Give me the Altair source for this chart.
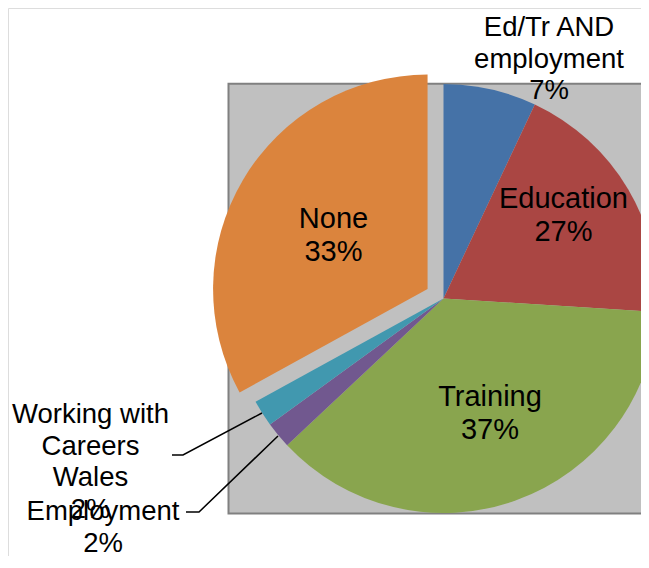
import altair as alt
import pandas as pd

# ---------------- data ----------------
categories = ["Ed/Tr AND employment", "Education", "Training", "Employment",
              "Working with Careers Wales", "None"]
shares = [7, 19, 37, 2, 2, 33]
# percentages as printed on the labels
label_pct = ["7%", "27%", "37%", "2%", "2%", "33%"]
label_names = ["Ed/Tr AND\nemployment", "Education", "Training", "Employment",
               "Working with\nCareers\nWales", "None"]
colors = ["#4572A7", "#AA4643", "#89A54E", "#71588F", "#4198AF", "#DB843D"]
exploded_category = "None"

# ---------------- layout (pixels inside the view) ----------------
W, H = 633, 548
CX, CY, R = 435.5, 290.5, 214.5
EXPLODE = 18.5
FONT = "Liberation Sans"

label_layout = {  # category: (x, first baseline, inside?)
    "Ed/Tr AND employment": (541, 28, False),
    "Education": (555.5, 200, True),
    "Training": (482, 398, True),
    "Employment": (95, 512, False),
    "Working with Careers Wales": (82.5, 415, False),
    "None": (325.5, 220, True),
}
leader_layout = {
    "Working with Careers Wales": [(164, 447), (175, 447), (254, 405)],
    "Employment": [(178, 504), (191, 504), (270, 428)],
}

slices = pd.DataFrame({
    "category": categories,
    "share": shares,
    "order": list(range(len(categories))),
    "explode": [EXPLODE if c == exploded_category else 0 for c in categories],
})

labels = pd.DataFrame({
    "category": categories,
    "text": [n + "\n" + p for n, p in zip(label_names, label_pct)],
    "lx": [label_layout[c][0] for c in categories],
    "ly": [label_layout[c][1] for c in categories],
    "inside": [label_layout[c][2] for c in categories],
})

leader_rows = []
for cat, pts in leader_layout.items():
    for i, (px, py) in enumerate(pts):
        leader_rows.append({"category": cat, "i": i, "px": px, "py": py})
leaders = pd.DataFrame(leader_rows)

# ---------------- chart ----------------
plot_area = alt.Chart(pd.DataFrame({"a": [0]})).mark_rect(
    fill="#C0C0C0", stroke="#808080", strokeWidth=2
).encode(
    x=alt.value(220.5), x2=alt.value(W + 30),
    y=alt.value(75.7), y2=alt.value(505.5),
)

pie = alt.Chart(slices).transform_window(
    cum="sum(share)", sort=[alt.SortField("order")], frame=[None, 0]
).transform_joinaggregate(
    total="sum(share)"
).transform_calculate(
    t0="(datum.cum - datum.share) / datum.total * 2 * PI",
    t1="datum.cum / datum.total * 2 * PI",
).transform_calculate(
    cx=f"{CX} + datum.explode * sin((datum.t0 + datum.t1) / 2)",
    cy=f"{CY} - datum.explode * cos((datum.t0 + datum.t1) / 2)",
).mark_arc(radius=R, strokeWidth=0).encode(
    x=alt.X("cx:Q", scale=None, axis=None),
    y=alt.Y("cy:Q", scale=None, axis=None),
    theta=alt.Theta("t0:Q", scale=None),
    theta2=alt.Theta2("t1:Q"),
    color=alt.Color("category:N", scale=alt.Scale(domain=categories, range=colors),
                    legend=None),
)

leader_lines = alt.Chart(leaders).mark_line(color="black", strokeWidth=1.5).encode(
    x=alt.X("px:Q", scale=None, axis=None),
    y=alt.Y("py:Q", scale=None, axis=None),
    detail="category:N",
    order="i:Q",
)

inside_text = alt.Chart(labels).transform_filter("datum.inside").mark_text(
    font=FONT, fontSize=29, lineHeight=33, lineBreak="\n",
    align="center", baseline="alphabetic", color="black",
).encode(
    x=alt.X("lx:Q", scale=None, axis=None),
    y=alt.Y("ly:Q", scale=None, axis=None),
    text="text:N",
)

outside_text = alt.Chart(labels).transform_filter("!datum.inside").mark_text(
    font=FONT, fontSize=27.5, lineHeight=31.5, lineBreak="\n",
    align="center", baseline="alphabetic", color="black",
).encode(
    x=alt.X("lx:Q", scale=None, axis=None),
    y=alt.Y("ly:Q", scale=None, axis=None),
    text="text:N",
)

chart = alt.layer(plot_area, pie, leader_lines, inside_text, outside_text).properties(
    width=W, height=H,
    autosize=alt.AutoSizeParams(type="none"),
    padding=0,
).configure_view(stroke="transparent", strokeWidth=0).configure(background="white")

chart.save("out.html", embed_options={"renderer": "svg", "actions": False})
